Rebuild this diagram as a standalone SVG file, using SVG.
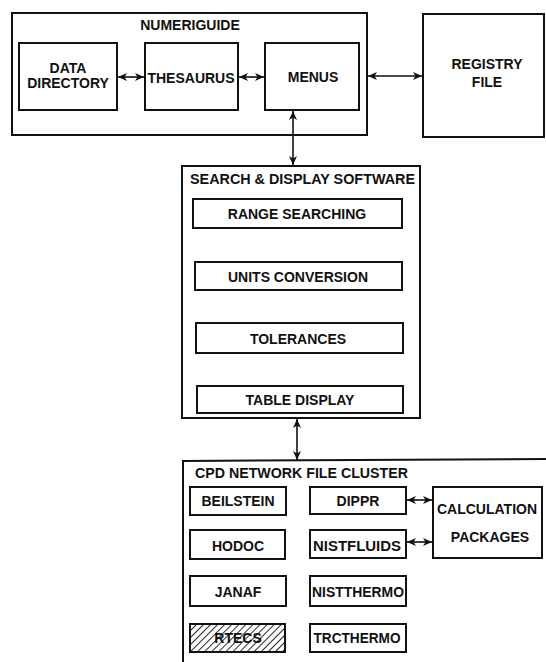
<svg xmlns="http://www.w3.org/2000/svg" width="546" height="662" viewBox="0 0 546 662">
<style>
.box{fill:none;stroke:#111;stroke-width:2}
.t{font-family:"Liberation Sans",Arial,sans-serif;font-weight:bold;font-size:14px;fill:#111;text-anchor:middle}
.tl{font-family:"Liberation Sans",Arial,sans-serif;font-weight:bold;font-size:14px;fill:#111}
.c{stroke:#111;stroke-width:1.6;fill:none;marker-start:url(#ah);marker-end:url(#ah)}
</style>
<defs>
<marker id="ah" markerUnits="userSpaceOnUse" markerWidth="10" markerHeight="9" refX="9" refY="4" orient="auto-start-reverse">
<path d="M0,0 L9,4 L0,8 L2.5,4 z" fill="#111"/>
</marker>
<pattern id="hatch" patternUnits="userSpaceOnUse" width="5" height="5" patternTransform="rotate(45)">
<line x1="0" y1="0" x2="0" y2="5" stroke="#111" stroke-width="1.8"/>
</pattern>
</defs>
<rect width="546" height="662" fill="#fff"/>

<g id="numeriguide">
<rect class="box" x="12" y="13" width="355" height="122"/>
<text class="t" x="190" y="30">NUMERIGUIDE</text>
</g>
<g id="data-directory">
<rect class="box" x="19" y="43" width="98" height="67"/>
<text class="t" x="68" y="73">DATA</text>
<text class="t" x="68" y="88">DIRECTORY</text>
</g>
<g id="thesaurus">
<rect class="box" x="145" y="43" width="93" height="67"/>
<text class="t" x="191" y="83">THESAURUS</text>
</g>
<g id="menus">
<rect class="box" x="265" y="43" width="94" height="67"/>
<text class="t" x="313" y="82">MENUS</text>
</g>
<g id="registry-file">
<rect class="box" x="423" y="14" width="121" height="123"/>
<text class="t" x="487" y="69">REGISTRY</text>
<text class="t" x="487" y="87">FILE</text>
</g>

<g id="search-display">
<rect class="box" x="182" y="166" width="238" height="252"/>
<text class="tl" x="190" y="184" textLength="225" lengthAdjust="spacingAndGlyphs">SEARCH &amp; DISPLAY SOFTWARE</text>
</g>
<g id="range-searching">
<rect class="box" x="193" y="199" width="209" height="29"/>
<text class="t" x="297" y="219">RANGE SEARCHING</text>
</g>
<g id="units-conversion">
<rect class="box" x="195" y="262" width="207" height="28"/>
<text class="t" x="298" y="282">UNITS CONVERSION</text>
</g>
<g id="tolerances">
<rect class="box" x="196" y="323" width="207" height="30"/>
<text class="t" x="298" y="344">TOLERANCES</text>
</g>
<g id="table-display">
<rect class="box" x="197" y="386" width="206" height="27"/>
<text class="t" x="300" y="405">TABLE DISPLAY</text>
</g>

<g id="cpd-cluster">
<path class="box" d="M183,662 L183,461 L546,459"/>
<text class="tl" x="195" y="478" textLength="213" lengthAdjust="spacingAndGlyphs">CPD NETWORK FILE CLUSTER</text>
</g>
<g id="beilstein">
<rect class="box" x="190" y="487" width="96" height="28"/>
<text class="t" x="238" y="506">BEILSTEIN</text>
</g>
<g id="dippr">
<rect class="box" x="310" y="487" width="96" height="27"/>
<text class="t" x="358" y="506">DIPPR</text>
</g>
<g id="hodoc">
<rect class="box" x="190" y="530" width="95" height="29"/>
<text class="t" x="238" y="551">HODOC</text>
</g>
<g id="nistfluids">
<rect class="box" x="310" y="530" width="96" height="28"/>
<text class="t" x="357" y="551" textLength="88" lengthAdjust="spacingAndGlyphs">NISTFLUIDS</text>
</g>
<g id="janaf">
<rect class="box" x="190" y="576" width="96" height="30"/>
<text class="t" x="238" y="597">JANAF</text>
</g>
<g id="nistthermo">
<rect class="box" x="310" y="576" width="96" height="30"/>
<text class="t" x="358" y="597" textLength="92" lengthAdjust="spacingAndGlyphs">NISTTHERMO</text>
</g>
<g id="rtecs">
<rect x="190" y="624" width="95" height="28" fill="url(#hatch)"/>
<rect class="box" x="190" y="624" width="95" height="28"/>
<text class="t" x="238" y="643">RTECS</text>
</g>
<g id="trcthermo">
<rect class="box" x="310" y="624" width="96" height="28"/>
<text class="t" x="357" y="643" textLength="87" lengthAdjust="spacingAndGlyphs">TRCTHERMO</text>
</g>
<g id="calculation-packages">
<rect class="box" x="433" y="487" width="109" height="71"/>
<text class="t" x="487" y="514">CALCULATION</text>
<text class="t" x="490" y="542">PACKAGES</text>
</g>

<g id="connectors">
<line class="c" x1="118" y1="77" x2="144" y2="77"/>
<line class="c" x1="239" y1="77" x2="264" y2="77"/>
<line class="c" x1="368" y1="76" x2="422" y2="76"/>
<line class="c" x1="293" y1="111" x2="293" y2="165"/>
<line class="c" x1="297" y1="419" x2="297" y2="460"/>
<line class="c" x1="407" y1="500" x2="432" y2="500"/>
<line class="c" x1="407" y1="542" x2="432" y2="542"/>
</g>
</svg>
